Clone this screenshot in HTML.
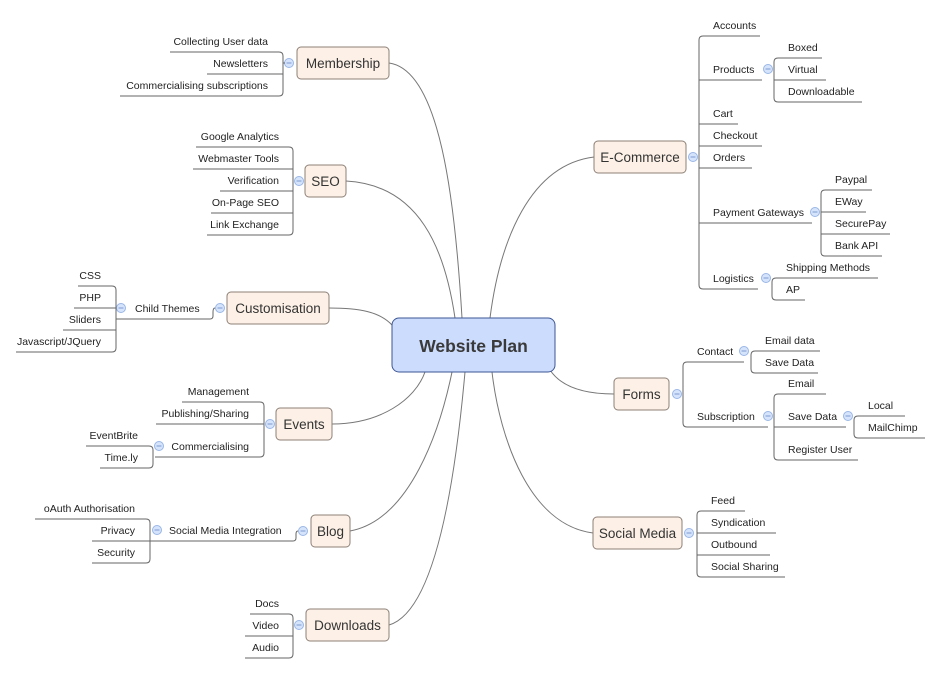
<!DOCTYPE html>
<html><head><meta charset="utf-8"><style>
html,body{margin:0;padding:0;background:#fff;}
svg{display:block;font-family:"Liberation Sans",sans-serif;}
.l{stroke:#666;stroke-width:1;fill:none;}
.c{stroke:#777;stroke-width:1;fill:none;}
.t{font-size:10.5px;fill:#222;}
.e{text-anchor:end;}
.n{fill:#fdf1e7;stroke:#8d7f76;stroke-width:1;}
.nt{font-size:13.5px;fill:#333;text-anchor:middle;}
.k{fill:#d6e4fb;stroke:#9ab6e6;stroke-width:1;}
</style></head><body>
<svg width="942" height="674" viewBox="0 0 942 674" xmlns="http://www.w3.org/2000/svg">
<defs>
<g id="m"><circle class="k" r="4.5"/><line x1="-2.5" y1="0" x2="2.5" y2="0" stroke="#7d9ad0" stroke-width="1"/></g>
</defs>
<!-- main curves -->
<path class="c" d="M389 63 C440 70 455 200 462 318"/>
<path class="c" d="M346 181 C420 185 445 250 455 318"/>
<path class="c" d="M329 308 C360 308 380 312 392 325"/>
<path class="c" d="M332 424 C380 424 415 400 425 372"/>
<path class="c" d="M350 531 C410 520 440 430 452 372"/>
<path class="c" d="M389 625 C440 610 458 450 465 372"/>
<path class="c" d="M594 157 C530 165 500 240 490 318"/>
<path class="c" d="M614 394 C580 394 560 385 550 370"/>
<path class="c" d="M593 533 C530 525 500 440 492 372"/>

<!-- center -->
<rect x="392" y="318" width="163" height="54" rx="7" fill="#ccdcfc" stroke="#3d5694" stroke-width="1"/>
<text x="473.5" y="352" font-size="17.5" font-weight="bold" fill="#3a3a3a" text-anchor="middle">Website Plan</text>

<!-- Membership -->
<rect class="n" x="297" y="47" width="92" height="32" rx="4"/><text class="nt" x="343" y="68">Membership</text>
<use href="#m" x="289" y="63"/><path class="l" d="M283 63 H285"/>
<path class="l" d="M170 52 H279 Q283 52 283 56 V92 Q283 96 279 96 H120 M207 74 H283"/>
<text class="t e" x="268" y="45">Collecting User data</text>
<text class="t e" x="268" y="67">Newsletters</text>
<text class="t e" x="268" y="89">Commercialising subscriptions</text>

<!-- SEO -->
<rect class="n" x="305" y="165" width="41" height="32" rx="4"/><text class="nt" x="325.5" y="186">SEO</text>
<use href="#m" x="299" y="181"/>
<path class="l" d="M196 147 H289 Q293 147 293 151 V231 Q293 235 289 235 H207 M193 169 H293 M220 191 H293 M211 213 H293"/>
<text class="t e" x="279" y="140">Google Analytics</text>
<text class="t e" x="279" y="162">Webmaster Tools</text>
<text class="t e" x="279" y="184">Verification</text>
<text class="t e" x="279" y="206">On-Page SEO</text>
<text class="t e" x="279" y="228">Link Exchange</text>

<!-- Customisation -->
<rect class="n" x="227" y="292" width="102" height="32" rx="4"/><text class="nt" x="278" y="313">Customisation</text>
<use href="#m" x="220" y="308"/>
<path class="l" d="M116 319 H210 Q213 319 213 316 V312 Q213 308 215 308"/>
<text class="t" x="135" y="312">Child Themes</text>
<use href="#m" x="121" y="308"/>
<path class="l" d="M78 286 H112 Q116 286 116 290 V348 Q116 352 112 352 H16 M74 308 H116 M63 330 H116"/>
<text class="t e" x="101" y="279">CSS</text>
<text class="t e" x="101" y="301">PHP</text>
<text class="t e" x="101" y="323">Sliders</text>
<text class="t e" x="101" y="345">Javascript/JQuery</text>

<!-- Events -->
<rect class="n" x="276" y="408" width="56" height="32" rx="4"/><text class="nt" x="304" y="429">Events</text>
<use href="#m" x="270" y="424"/>
<path class="l" d="M182 402 H260 Q264 402 264 406 V453 Q264 457 260 457 H155 M156 424 H264"/>
<text class="t e" x="249" y="395">Management</text>
<text class="t e" x="249" y="417">Publishing/Sharing</text>
<text class="t e" x="249" y="450">Commercialising</text>
<use href="#m" x="159" y="446"/>
<path class="l" d="M86 446 H149 Q153 446 153 450 V464 Q153 468 149 468 H100"/>
<text class="t e" x="138" y="439">EventBrite</text>
<text class="t e" x="138" y="461">Time.ly</text>

<!-- Blog -->
<rect class="n" x="311" y="515" width="39" height="32" rx="4"/><text class="nt" x="330.5" y="536">Blog</text>
<use href="#m" x="303" y="531"/>
<path class="l" d="M150 541 H293 Q296 541 296 538 V534 Q296 531 298 531"/>
<text class="t" x="169" y="534">Social Media Integration</text>
<use href="#m" x="157" y="530"/>
<path class="l" d="M35 519 H146 Q150 519 150 523 V559 Q150 563 146 563 H92 M92 541 H150"/>
<text class="t e" x="135" y="512">oAuth Authorisation</text>
<text class="t e" x="135" y="534">Privacy</text>
<text class="t e" x="135" y="556">Security</text>

<!-- Downloads -->
<rect class="n" x="306" y="609" width="83" height="32" rx="4"/><text class="nt" x="347.5" y="630">Downloads</text>
<use href="#m" x="299" y="625"/>
<path class="l" d="M250 614 H289 Q293 614 293 618 V654 Q293 658 289 658 H245 M245 636 H293"/>
<text class="t e" x="279" y="607">Docs</text>
<text class="t e" x="279" y="629">Video</text>
<text class="t e" x="279" y="651">Audio</text>

<!-- E-Commerce -->
<rect class="n" x="594" y="141" width="92" height="32" rx="4"/><text class="nt" x="640" y="162">E-Commerce</text>
<use href="#m" x="693" y="157"/>
<path class="l" d="M760 36 H703 Q699 36 699 40 V285 Q699 289 703 289 H758 M699 80 H762 M738 124 H699 M762 146 H699 M752 168 H699 M699 223 H812"/>
<text class="t" x="713" y="29">Accounts</text>
<text class="t" x="713" y="73">Products</text>
<text class="t" x="713" y="117">Cart</text>
<text class="t" x="713" y="139">Checkout</text>
<text class="t" x="713" y="161">Orders</text>
<text class="t" x="713" y="216">Payment Gateways</text>
<text class="t" x="713" y="282">Logistics</text>
<use href="#m" x="768" y="69"/>
<path class="l" d="M822 58 H778 Q774 58 774 62 V98 Q774 102 778 102 H862 M774 80 H826"/>
<text class="t" x="788" y="51">Boxed</text>
<text class="t" x="788" y="73">Virtual</text>
<text class="t" x="788" y="95">Downloadable</text>
<use href="#m" x="815" y="212"/>
<path class="l" d="M872 190 H825 Q821 190 821 194 V252 Q821 256 825 256 H882 M821 212 H866 M821 234 H890"/>
<text class="t" x="835" y="183">Paypal</text>
<text class="t" x="835" y="205">EWay</text>
<text class="t" x="835" y="227">SecurePay</text>
<text class="t" x="835" y="249">Bank API</text>
<use href="#m" x="766" y="278"/>
<path class="l" d="M878 278 H776 Q772 278 772 282 V296 Q772 300 776 300 H805"/>
<text class="t" x="786" y="271">Shipping Methods</text>
<text class="t" x="786" y="293">AP</text>

<!-- Forms -->
<rect class="n" x="614" y="378" width="55" height="32" rx="4"/><text class="nt" x="641.5" y="399">Forms</text>
<use href="#m" x="677" y="394"/>
<path class="l" d="M744 362 H687 Q683 362 683 366 V423 Q683 427 687 427 H768"/>
<text class="t" x="697" y="355">Contact</text>
<text class="t" x="697" y="420">Subscription</text>
<use href="#m" x="744" y="351"/>
<path class="l" d="M820 351 H755 Q751 351 751 355 V369 Q751 373 755 373 H818"/>
<text class="t" x="765" y="344">Email data</text>
<text class="t" x="765" y="366">Save Data</text>
<use href="#m" x="768" y="416"/>
<path class="l" d="M826 394 H778 Q774 394 774 398 V456 Q774 460 778 460 H858 M774 427 H846"/>
<text class="t" x="788" y="387">Email</text>
<text class="t" x="788" y="420">Save Data</text>
<text class="t" x="788" y="453">Register User</text>
<use href="#m" x="848" y="416"/>
<path class="l" d="M905 416 H858 Q854 416 854 420 V434 Q854 438 858 438 H925"/>
<text class="t" x="868" y="409">Local</text>
<text class="t" x="868" y="431">MailChimp</text>

<!-- Social Media -->
<rect class="n" x="593" y="517" width="89" height="32" rx="4"/><text class="nt" x="637.5" y="538">Social Media</text>
<use href="#m" x="689" y="533"/>
<path class="l" d="M745 511 H701 Q697 511 697 515 V573 Q697 577 701 577 H785 M697 533 H776 M697 555 H770"/>
<text class="t" x="711" y="504">Feed</text>
<text class="t" x="711" y="526">Syndication</text>
<text class="t" x="711" y="548">Outbound</text>
<text class="t" x="711" y="570">Social Sharing</text>
</svg>
</body></html>
